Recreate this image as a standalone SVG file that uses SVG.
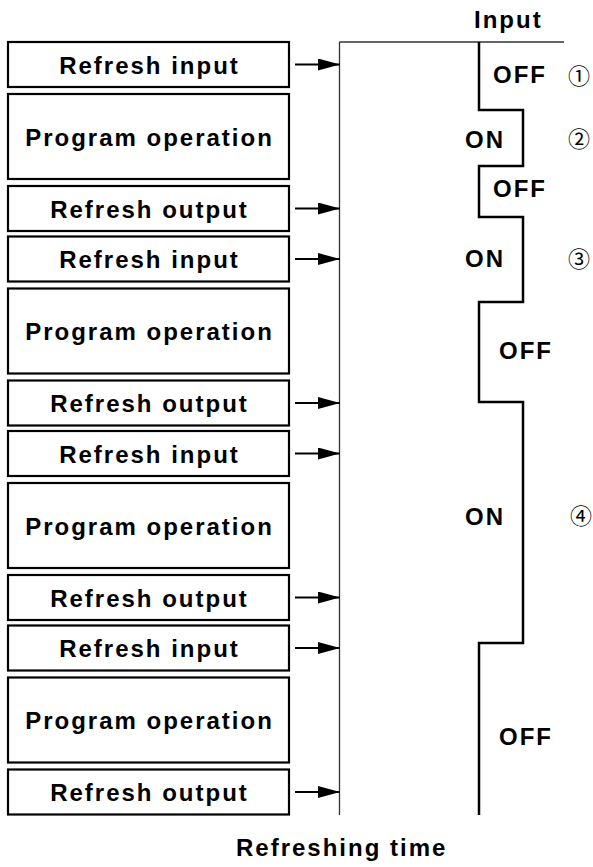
<svg xmlns="http://www.w3.org/2000/svg" width="593" height="867" viewBox="0 0 593 867">
<defs>
<style>
.box{fill:#fff;stroke:#000;stroke-width:2.2}
.bt{font-family:"Liberation Sans",Arial,sans-serif;font-weight:bold;font-size:24px;letter-spacing:2px;fill:#000;text-anchor:middle}
.lb{font-family:"Liberation Sans",Arial,sans-serif;font-weight:bold;font-size:24px;letter-spacing:2px;fill:#000}
.num{font-family:"Noto Sans CJK KR","DejaVu Sans",sans-serif;font-size:22px;fill:#000;text-anchor:middle}
.arr{stroke:#000;stroke-width:2;fill:none;marker-end:url(#ah)}
</style>
<marker id="ah" markerUnits="userSpaceOnUse" markerWidth="22" markerHeight="12" refX="22" refY="6" orient="auto">
<path d="M0,0 L22,6 L0,12 Z" fill="#000"/>
</marker>
</defs>
<rect width="593" height="867" fill="#fff"/>

<g id="n1"><rect class="box" x="8" y="42" width="281" height="45"/><text class="bt" x="149.5" y="73.5">Refresh input</text></g>
<g id="n2"><rect class="box" x="8" y="94" width="281" height="85"/><text class="bt" x="149.5" y="145.5">Program operation</text></g>
<g id="n3"><rect class="box" x="8" y="186" width="281" height="45"/><text class="bt" x="149.5" y="217.5">Refresh output</text></g>

<g id="n4"><rect class="box" x="8" y="236.5" width="281" height="45"/><text class="bt" x="149.5" y="268">Refresh input</text></g>
<g id="n5"><rect class="box" x="8" y="288.5" width="281" height="85"/><text class="bt" x="149.5" y="340">Program operation</text></g>
<g id="n6"><rect class="box" x="8" y="380.5" width="281" height="45"/><text class="bt" x="149.5" y="412">Refresh output</text></g>

<g id="n7"><rect class="box" x="8" y="431" width="281" height="45"/><text class="bt" x="149.5" y="462.5">Refresh input</text></g>
<g id="n8"><rect class="box" x="8" y="483" width="281" height="85"/><text class="bt" x="149.5" y="534.5">Program operation</text></g>
<g id="n9"><rect class="box" x="8" y="575" width="281" height="45"/><text class="bt" x="149.5" y="606.5">Refresh output</text></g>

<g id="n10"><rect class="box" x="8" y="625.5" width="281" height="45"/><text class="bt" x="149.5" y="657">Refresh input</text></g>
<g id="n11"><rect class="box" x="8" y="677.5" width="281" height="85"/><text class="bt" x="149.5" y="729">Program operation</text></g>
<g id="n12"><rect class="box" x="8" y="769.5" width="281" height="45"/><text class="bt" x="149.5" y="801">Refresh output</text></g>

<g id="timeline">
<path d="M339.5,42 V815 M339.5,42 H564" stroke="#333" stroke-width="1.3" fill="none"/>
</g>

<g id="connectors">
<path class="arr" d="M295,64.5 H340"/>
<path class="arr" d="M295,208.5 H340"/>
<path class="arr" d="M295,259 H340"/>
<path class="arr" d="M295,403 H340"/>
<path class="arr" d="M295,453.5 H340"/>
<path class="arr" d="M295,597.5 H340"/>
<path class="arr" d="M295,648 H340"/>
<path class="arr" d="M295,792 H340"/>
</g>

<g id="signal">
<path d="M479,42 V110 H523 V166 H479 V217 H523 V302 H479 V402 H523 V643 H479 V815" stroke="#000" stroke-width="2.5" fill="none"/>
<text class="lb" x="474" y="28">Input</text>
<text class="lb" x="493" y="83">OFF</text>
<text class="lb" x="465" y="148">ON</text>
<text class="lb" x="493" y="197">OFF</text>
<text class="lb" x="465" y="267">ON</text>
<text class="lb" x="499" y="359">OFF</text>
<text class="lb" x="465" y="525">ON</text>
<text class="lb" x="499" y="745">OFF</text>
<text class="num" x="579" y="84">①</text>
<text class="num" x="579" y="147">②</text>
<text class="num" x="579" y="267">③</text>
<text class="num" x="581" y="524">④</text>
</g>

<text class="lb" x="236" y="856">Refreshing time</text>
</svg>
